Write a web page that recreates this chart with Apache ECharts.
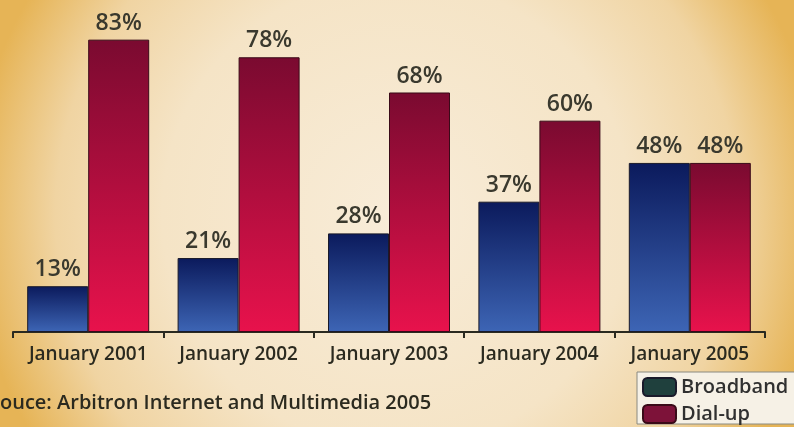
<!DOCTYPE html>
<html><head><meta charset="utf-8">
<script src="https://cdn.jsdelivr.net/npm/echarts@6/dist/echarts.min.js"></script>
<style>html,body{margin:0;padding:0;}#c{width:794px;height:427px;}</style>
</head><body><div id="c"></div>
<script>
var categories = ['January 2001','January 2002','January 2003','January 2004','January 2005'];
var broadband = [13, 21, 28, 37, 48];
var dialup = [83, 78, 68, 60, 48];
var seriesNames = ['Broadband', 'Dial-up'];
var sourceText = 'ouce: Arbitron Internet and Multimedia 2005';

var chart = echarts.init(document.getElementById('c'));
var font = '"Open Sans", "Noto Sans", sans-serif';
var labelCfg = {show:true, position:'top', formatter:'{c}%', fontFamily:font, fontSize:23, fontWeight:600, color:'#3a392e', distance:5};
chart.setOption({
  animation:false,
  graphic:[
    {type:'rect', z:-10, silent:true, shape:{x:0,y:0,width:794,height:427},
     style:{fill:new echarts.graphic.RadialGradient(0.5,0.5,1.0,[
       {offset:0,color:'#f8ecd8'},{offset:0.55,color:'#f5e4c6'},{offset:0.8,color:'#f0d4a2'},{offset:1,color:'#e6b456'}])}},
    {type:'text', left:0, top:393, style:{text:sourceText, font:'600 20px "Open Sans", sans-serif', fill:'#2b2a1f'}}
  ],
  legend:{
    data:[{name:seriesNames[0], itemStyle:{color:'#1f403d'}},{name:seriesNames[1], itemStyle:{color:'#7d1239'}}],
    orient:'vertical', left:637, top:372, itemWidth:33, itemHeight:18, itemGap:7,
    padding:[5,10,0,5], backgroundColor:'#f6f1e6', borderColor:'#8a8a80', borderWidth:1,
    textStyle:{fontFamily:font, fontSize:20, fontWeight:600, color:'#303030'}
  },
  grid:{left:13, right:29, top:15, bottom:95},
  xAxis:{type:'category', data:categories,
    axisLine:{lineStyle:{color:'#2a2a20', width:2}},
    axisTick:{show:true, length:6, inside:false, lineStyle:{color:'#2a2a20', width:2}},
    axisLabel:{interval:0, fontFamily:font, fontSize:19, fontWeight:600, color:'#2b2a1f', margin:13}},
  yAxis:{type:'value', min:0, max:90, show:false, splitLine:{show:false}},
  series:[
    {name:seriesNames[0], type:'bar', data:broadband, barWidth:61, barGap:'0%',
     itemStyle:{borderColor:'#1a1a2a', borderWidth:1,
       color:new echarts.graphic.LinearGradient(0,0,0,1,[{offset:0,color:'#0b1a5c'},{offset:1,color:'#3d65b5'}])},
     label:labelCfg},
    {name:seriesNames[1], type:'bar', data:dialup, barWidth:61,
     itemStyle:{borderColor:'#3a0a18', borderWidth:1,
       color:new echarts.graphic.LinearGradient(0,0,0,1,[{offset:0,color:'#7a0a30'},{offset:1,color:'#e8124c'}])},
     label:labelCfg}
  ]
});
</script></body></html>
